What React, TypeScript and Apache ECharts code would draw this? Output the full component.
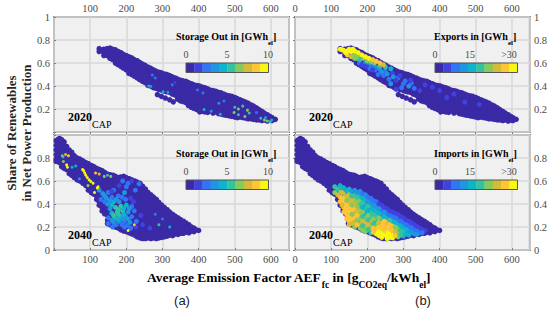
import React, { useEffect, useRef } from "react";
import * as echarts from "echarts";

const palette = ["#3b2aa5", "#4042e0", "#3075f5", "#1f96df", "#0db5cc", "#35c39f", "#84cb5c", "#d6ba3a", "#fec535", "#f8f90f"];
const xTicks = [0, 100, 200, 300, 400, 500, 600];

// columns: [AEF, [share values]]
const cloud2020: [number, number[]][] = [
  [125, [0.725, 0.7]], [138, [0.72, 0.69, 0.665]], [155, [0.73, 0.7, 0.67, 0.64]],
  [170, [0.715, 0.685, 0.655, 0.625, 0.6]], [185, [0.69, 0.66, 0.63, 0.6, 0.57]],
  [200, [0.665, 0.635, 0.605, 0.575, 0.54]], [215, [0.645, 0.615, 0.585, 0.555, 0.525, 0.5]],
  [230, [0.62, 0.59, 0.56, 0.53, 0.5, 0.47]], [245, [0.59, 0.56, 0.53, 0.5, 0.47, 0.44]],
  [260, [0.565, 0.535, 0.505, 0.475, 0.445, 0.405]], [275, [0.54, 0.51, 0.48, 0.45, 0.42, 0.385]],
  [290, [0.52, 0.49, 0.46, 0.43, 0.4, 0.37]], [305, [0.505, 0.475, 0.445, 0.415, 0.385, 0.355]],
  [320, [0.49, 0.46, 0.43, 0.4, 0.37, 0.345]], [335, [0.47, 0.44, 0.41, 0.38, 0.35, 0.32]],
  [350, [0.45, 0.42, 0.39, 0.36, 0.33, 0.3, 0.27]], [365, [0.44, 0.41, 0.38, 0.35, 0.32, 0.29, 0.255]],
  [380, [0.42, 0.39, 0.36, 0.33, 0.3, 0.27, 0.24, 0.215]], [395, [0.405, 0.375, 0.345, 0.315, 0.285, 0.255, 0.225, 0.195]],
  [403, [0.175]], [410, [0.39, 0.36, 0.33, 0.3, 0.27, 0.24, 0.21, 0.18]],
  [425, [0.375, 0.345, 0.315, 0.285, 0.255, 0.225, 0.195, 0.17]], [440, [0.36, 0.33, 0.3, 0.27, 0.24, 0.21, 0.18, 0.165]],
  [455, [0.345, 0.315, 0.285, 0.255, 0.225, 0.195, 0.16]], [470, [0.33, 0.3, 0.27, 0.24, 0.21, 0.18, 0.15]],
  [485, [0.315, 0.285, 0.255, 0.225, 0.195, 0.165, 0.14]], [500, [0.3, 0.27, 0.24, 0.21, 0.18, 0.15, 0.13]],
  [515, [0.28, 0.25, 0.22, 0.19, 0.16, 0.13]], [530, [0.26, 0.23, 0.2, 0.17, 0.14, 0.12]],
  [545, [0.235, 0.205, 0.175, 0.145, 0.115]], [560, [0.21, 0.18, 0.15, 0.12, 0.105]],
  [575, [0.18, 0.15, 0.12, 0.1]], [590, [0.15, 0.12, 0.095]], [603, [0.125, 0.1]], [612, [0.11]],
];
const cloud2020Between: [number, number[]][] = [
  [132, [0.71]], [147, [0.725, 0.695, 0.665]], [162, [0.72, 0.69, 0.66, 0.63]],
  [177, [0.7, 0.67, 0.64, 0.61, 0.585]], [192, [0.675, 0.645, 0.615, 0.585, 0.555]],
  [207, [0.655, 0.625, 0.595, 0.565, 0.535, 0.51]], [222, [0.63, 0.6, 0.57, 0.54, 0.51, 0.485]],
  [237, [0.605, 0.575, 0.545, 0.515, 0.485, 0.455]], [252, [0.58, 0.55, 0.52, 0.49, 0.46, 0.43]],
  [267, [0.555, 0.525, 0.495, 0.465, 0.435, 0.4]], [282, [0.53, 0.5, 0.47, 0.44, 0.41, 0.38]],
  [297, [0.515, 0.485, 0.455, 0.425, 0.395, 0.365]], [312, [0.5, 0.47, 0.44, 0.41, 0.38, 0.35]],
  [327, [0.48, 0.45, 0.42, 0.39, 0.36, 0.33]], [342, [0.46, 0.43, 0.4, 0.37, 0.34, 0.31, 0.285]],
  [357, [0.445, 0.415, 0.385, 0.355, 0.325, 0.295, 0.265]], [372, [0.43, 0.4, 0.37, 0.34, 0.31, 0.28, 0.25, 0.23]],
  [387, [0.41, 0.38, 0.35, 0.32, 0.29, 0.26, 0.23, 0.205]], [402, [0.4, 0.37, 0.34, 0.31, 0.28, 0.25, 0.22, 0.19]],
  [417, [0.385, 0.355, 0.325, 0.295, 0.265, 0.235, 0.205, 0.175]], [432, [0.365, 0.335, 0.305, 0.275, 0.245, 0.215, 0.185]],
  [447, [0.355, 0.325, 0.295, 0.265, 0.235, 0.205, 0.175]], [462, [0.34, 0.31, 0.28, 0.25, 0.22, 0.19, 0.155]],
  [477, [0.32, 0.29, 0.26, 0.23, 0.2, 0.17, 0.145]], [492, [0.31, 0.28, 0.25, 0.22, 0.19, 0.16, 0.135]],
  [507, [0.29, 0.26, 0.23, 0.2, 0.17, 0.14, 0.125]], [522, [0.27, 0.24, 0.21, 0.18, 0.15, 0.125]],
  [537, [0.25, 0.22, 0.19, 0.16, 0.13, 0.115]], [552, [0.225, 0.195, 0.165, 0.135, 0.11]],
  [567, [0.195, 0.165, 0.135, 0.105]], [582, [0.165, 0.135, 0.105]], [597, [0.135, 0.105]],
];
const strip2020: [number, number][] = [[286, 0.325], [297, 0.31], [308, 0.295], [320, 0.28], [330, 0.262]];

const cloud2040: [number, number[]][] = [
  [6, [0.95, 0.91, 0.87, 0.83, 0.79, 0.77]], [15, [0.97, 0.93, 0.89, 0.85, 0.81, 0.76]],
  [28, [0.94, 0.9, 0.86, 0.82, 0.78, 0.74, 0.71]], [42, [0.87, 0.83, 0.79, 0.75, 0.71, 0.665]],
  [56, [0.82, 0.78, 0.74, 0.7, 0.66, 0.63]], [72, [0.79, 0.75, 0.71, 0.67, 0.63, 0.6]],
  [88, [0.76, 0.72, 0.68, 0.64, 0.6, 0.56]], [103, [0.735, 0.695, 0.655, 0.615, 0.575, 0.535, 0.5]],
  [118, [0.71, 0.67, 0.63, 0.59, 0.55, 0.51, 0.47, 0.44]], [133, [0.69, 0.65, 0.61, 0.57, 0.53, 0.49, 0.45, 0.41, 0.37, 0.34]],
  [148, [0.66, 0.62, 0.58, 0.54, 0.5, 0.46, 0.42, 0.38, 0.34, 0.3, 0.26, 0.23]],
  [163, [0.65, 0.61, 0.57, 0.53, 0.49, 0.45, 0.41, 0.37, 0.33, 0.29, 0.25, 0.21]],
  [178, [0.63, 0.59, 0.55, 0.51, 0.47, 0.43, 0.39, 0.35, 0.31, 0.27, 0.23, 0.19]],
  [193, [0.64, 0.6, 0.56, 0.52, 0.48, 0.44, 0.4, 0.36, 0.32, 0.28, 0.24, 0.2, 0.165]],
  [208, [0.62, 0.58, 0.54, 0.5, 0.46, 0.42, 0.38, 0.34, 0.3, 0.26, 0.22, 0.18, 0.15]],
  [223, [0.6, 0.56, 0.52, 0.48, 0.44, 0.4, 0.36, 0.32, 0.28, 0.24, 0.2, 0.16, 0.13]],
  [238, [0.58, 0.54, 0.5, 0.46, 0.42, 0.38, 0.34, 0.3, 0.26, 0.22, 0.18, 0.14, 0.105]],
  [253, [0.53, 0.49, 0.45, 0.41, 0.37, 0.33, 0.29, 0.25, 0.21, 0.17, 0.13, 0.1]],
  [268, [0.48, 0.44, 0.4, 0.36, 0.32, 0.28, 0.24, 0.2, 0.16, 0.125, 0.1]],
  [283, [0.44, 0.4, 0.36, 0.32, 0.28, 0.24, 0.2, 0.16, 0.125, 0.1]],
  [298, [0.39, 0.35, 0.31, 0.27, 0.23, 0.19, 0.15, 0.11]], [313, [0.35, 0.31, 0.27, 0.23, 0.19, 0.15, 0.12]],
  [328, [0.31, 0.27, 0.23, 0.19, 0.15, 0.125]], [343, [0.28, 0.24, 0.2, 0.16, 0.135]],
  [358, [0.25, 0.21, 0.17, 0.145]], [373, [0.22, 0.18, 0.15]], [387, [0.19, 0.16]], [400, [0.17]],
];
const cloud2040Between: [number, number[]][] = [
  [10, [0.96, 0.92, 0.88, 0.84, 0.8]], [21, [0.96, 0.92, 0.88, 0.84, 0.8, 0.76, 0.725]],
  [35, [0.9, 0.86, 0.82, 0.78, 0.74, 0.7]], [49, [0.85, 0.81, 0.77, 0.73, 0.69, 0.65]],
  [64, [0.8, 0.76, 0.72, 0.68, 0.64, 0.61]], [80, [0.775, 0.735, 0.695, 0.655, 0.615, 0.58]],
  [95, [0.75, 0.71, 0.67, 0.63, 0.59, 0.55, 0.52]], [110, [0.725, 0.685, 0.645, 0.605, 0.565, 0.525, 0.485]],
  [125, [0.7, 0.66, 0.62, 0.58, 0.54, 0.5, 0.46, 0.42, 0.39]],
  [140, [0.675, 0.635, 0.595, 0.555, 0.515, 0.475, 0.435, 0.395, 0.355, 0.315]],
  [155, [0.655, 0.615, 0.575, 0.535, 0.495, 0.455, 0.415, 0.375, 0.335, 0.295, 0.255, 0.22]],
  [170, [0.64, 0.6, 0.56, 0.52, 0.48, 0.44, 0.4, 0.36, 0.32, 0.28, 0.24, 0.2]],
  [185, [0.635, 0.595, 0.555, 0.515, 0.475, 0.435, 0.395, 0.355, 0.315, 0.275, 0.235, 0.195, 0.175]],
  [200, [0.63, 0.59, 0.55, 0.51, 0.47, 0.43, 0.39, 0.35, 0.31, 0.27, 0.23, 0.19, 0.16]],
  [215, [0.61, 0.57, 0.53, 0.49, 0.45, 0.41, 0.37, 0.33, 0.29, 0.25, 0.21, 0.17, 0.14]],
  [230, [0.59, 0.55, 0.51, 0.47, 0.43, 0.39, 0.35, 0.31, 0.27, 0.23, 0.19, 0.15, 0.115]],
  [245, [0.555, 0.515, 0.475, 0.435, 0.395, 0.355, 0.315, 0.275, 0.235, 0.195, 0.155, 0.115, 0.1]],
  [260, [0.5, 0.46, 0.42, 0.38, 0.34, 0.3, 0.26, 0.22, 0.18, 0.14, 0.105]],
  [275, [0.46, 0.42, 0.38, 0.34, 0.3, 0.26, 0.22, 0.18, 0.14, 0.105]],
  [290, [0.415, 0.375, 0.335, 0.295, 0.255, 0.215, 0.175, 0.135, 0.105]],
  [305, [0.37, 0.33, 0.29, 0.25, 0.21, 0.17, 0.13, 0.115]], [320, [0.33, 0.29, 0.25, 0.21, 0.17, 0.13]],
  [335, [0.295, 0.255, 0.215, 0.175, 0.14]], [350, [0.265, 0.225, 0.185, 0.145]],
  [365, [0.235, 0.195, 0.155]], [380, [0.2, 0.165]], [393, [0.175]],
];

const storage2020: [number, number, number][] = [
  [262, 0.4, 4.5], [268, 0.395, 3], [272, 0.495, 2.5], [280, 0.47, 2], [302, 0.35, 4], [315, 0.345, 3],
  [327, 0.41, 2], [335, 0.43, 1.5], [397, 0.365, 2], [412, 0.34, 2], [456, 0.25, 3], [470, 0.27, 2],
  [415, 0.195, 4], [435, 0.18, 3], [500, 0.215, 5], [510, 0.2, 6], [522, 0.225, 5], [535, 0.19, 6],
  [498, 0.17, 6], [510, 0.15, 5], [528, 0.135, 6], [540, 0.165, 5.5], [460, 0.155, 4], [560, 0.17, 2],
  [572, 0.12, 5], [582, 0.105, 6], [590, 0.095, 6.5], [598, 0.09, 5], [602, 0.105, 4], [585, 0.125, 3],
];

const exports2020: [number, number, number][] = [
  [178, 0.6, 8], [185, 0.585, 4], [195, 0.6, 9], [205, 0.585, 11], [215, 0.57, 8], [225, 0.56, 10], [200, 0.565, 4],
  [192, 0.575, 5], [208, 0.55, 6], [222, 0.54, 7], [215, 0.54, 3], [235, 0.545, 9], [250, 0.53, 6], [270, 0.51, 5],
  [240, 0.52, 9], [255, 0.505, 10], [230, 0.5, 8], [245, 0.49, 7], [260, 0.46, 8], [272, 0.48, 9], [285, 0.47, 7],
  [280, 0.45, 4], [290, 0.49, 3], [300, 0.42, 6], [265, 0.42, 9], [315, 0.4, 9], [330, 0.38, 8], [345, 0.36, 4],
  [305, 0.445, 8], [322, 0.425, 6], [295, 0.385, 7], [320, 0.45, 3], [360, 0.41, 3], [280, 0.37, 5], [380, 0.39, 3],
  [420, 0.3, 3], [440, 0.33, 3], [470, 0.26, 3], [400, 0.36, 3], [510, 0.24, 3],
  [160, 0.66, 24], [172, 0.64, 20], [145, 0.67, 26], [155, 0.655, 22], [165, 0.67, 20], [175, 0.655, 18], [165, 0.64, 18],
  [180, 0.63, 16], [190, 0.64, 20], [200, 0.62, 19], [210, 0.61, 20], [220, 0.6, 18], [235, 0.575, 17], [250, 0.565, 15], [265, 0.55, 13],
  [125, 0.72, 30], [130, 0.715, 30], [135, 0.71, 30], [140, 0.69, 28], [150, 0.72, 27], [155, 0.7, 30], [145, 0.705, 30], [160, 0.72, 30],
  [165, 0.705, 30], [175, 0.69, 30], [185, 0.67, 30], [195, 0.655, 30], [205, 0.64, 28], [215, 0.63, 26], [225, 0.615, 26], [235, 0.6, 24], [245, 0.585, 22],
];

const storage2040: [number, number, number][] = [
  [190, 0.6, 2], [205, 0.58, 2.5], [215, 0.6, 1.5], [235, 0.575, 2], [180, 0.56, 1.5], [200, 0.55, 2], [225, 0.52, 2],
  [125, 0.52, 3], [135, 0.49, 3], [150, 0.5, 2.5], [165, 0.52, 2], [130, 0.44, 2.5], [145, 0.45, 3], [160, 0.46, 2],
  [178, 0.47, 2], [195, 0.5, 3], [148, 0.4, 3.5], [165, 0.42, 4.5], [180, 0.42, 3], [198, 0.44, 2.5], [212, 0.45, 1.5],
  [155, 0.36, 3], [170, 0.37, 5], [185, 0.38, 5], [200, 0.39, 4], [215, 0.38, 2], [160, 0.32, 4], [175, 0.33, 5.5],
  [190, 0.34, 5], [205, 0.33, 3.5], [222, 0.34, 2], [150, 0.28, 2.5], [168, 0.28, 4.5], [183, 0.29, 4.5], [198, 0.29, 3.5],
  [215, 0.29, 2.5], [150, 0.23, 2], [165, 0.24, 3], [180, 0.25, 3], [195, 0.25, 2.5], [210, 0.24, 3.5], [228, 0.25, 2],
  [162, 0.2, 2], [195, 0.2, 2], [212, 0.19, 2], [226, 0.2, 1.5], [240, 0.3, 1.5], [245, 0.22, 1.5], [265, 0.19, 1.5],
  [140, 0.47, 3], [155, 0.43, 3], [172, 0.44, 3], [188, 0.46, 2.5], [160, 0.39, 4], [178, 0.35, 5], [193, 0.36, 4.5],
  [165, 0.3, 5], [178, 0.31, 5.5], [193, 0.31, 4.5], [208, 0.36, 3], [160, 0.26, 3], [175, 0.27, 4], [190, 0.27, 3],
  [205, 0.27, 3], [172, 0.22, 2.5], [188, 0.22, 2], [203, 0.215, 2.5], [140, 0.42, 2], [220, 0.42, 1.5], [160, 0.51, 1.5],
];
const storage2040Fine: [number, number, number][] = [
  [79, 0.7, 10], [82, 0.69, 10], [85, 0.67, 10], [88, 0.65, 10], [92, 0.63, 10], [97, 0.61, 10], [102, 0.595, 10], [108, 0.58, 9],
  [120, 0.54, 10], [122, 0.55, 10], [112, 0.5, 9], [37, 0.72, 10], [35, 0.74, 9], [40, 0.82, 8], [32, 0.83, 7],
  [23, 0.82, 6], [25, 0.81, 5], [26, 0.77, 6], [50, 0.72, 4], [60, 0.73, 4], [115, 0.67, 8], [125, 0.66, 7],
  [139, 0.64, 6], [148, 0.65, 5], [157, 0.64, 6], [94, 0.56, 6], [290, 0.22, 5], [320, 0.2, 4], [280, 0.31, 2], [205, 0.17, 9],
  [222, 0.22, 8], [300, 0.27, 2], [70, 0.62, 3],
];

const imports2040: [number, number, number][] = [
  [110, 0.55, 15], [110, 0.5, 19], [125, 0.56, 14], [125, 0.51, 20], [125, 0.46, 24], [125, 0.42, 24],
  [135, 0.54, 13], [135, 0.49, 20], [135, 0.45, 24], [135, 0.41, 24], [135, 0.37, 25], [135, 0.33, 25],
  [150, 0.53, 12], [150, 0.49, 19], [150, 0.45, 19], [150, 0.41, 23], [150, 0.37, 25], [150, 0.33, 24], [150, 0.29, 26], [150, 0.25, 25], [150, 0.22, 22],
  [165, 0.52, 10], [165, 0.48, 16], [165, 0.44, 19], [165, 0.4, 21], [165, 0.36, 24], [165, 0.32, 22], [165, 0.28, 24], [165, 0.24, 23], [165, 0.2, 20],
  [180, 0.51, 9], [180, 0.47, 14], [180, 0.43, 18], [180, 0.39, 16], [180, 0.35, 20], [180, 0.31, 18], [180, 0.27, 19], [180, 0.23, 19], [180, 0.19, 20],
  [195, 0.48, 9], [195, 0.44, 12], [195, 0.4, 14], [195, 0.36, 17], [195, 0.32, 14], [195, 0.28, 19], [195, 0.24, 21], [195, 0.2, 18], [195, 0.16, 19],
  [210, 0.45, 6], [210, 0.41, 10], [210, 0.37, 13], [210, 0.33, 16], [210, 0.29, 17], [210, 0.25, 22], [210, 0.21, 18], [210, 0.17, 21], [210, 0.15, 16],
  [225, 0.42, 6], [225, 0.38, 9], [225, 0.34, 12], [225, 0.3, 15], [225, 0.26, 17], [225, 0.22, 20], [225, 0.18, 25], [225, 0.14, 30],
  [240, 0.39, 5], [240, 0.35, 8], [240, 0.31, 11], [240, 0.27, 15], [240, 0.23, 25], [240, 0.19, 26], [240, 0.15, 30], [240, 0.11, 30],
  [255, 0.36, 5], [255, 0.32, 8], [255, 0.28, 12], [255, 0.24, 22], [255, 0.2, 25], [255, 0.16, 30], [255, 0.12, 30], [255, 0.1, 30],
  [270, 0.33, 4], [270, 0.29, 8], [270, 0.25, 14], [270, 0.21, 24], [270, 0.17, 24], [270, 0.13, 30], [270, 0.105, 28],
  [285, 0.31, 3], [285, 0.27, 7], [285, 0.23, 13], [285, 0.19, 18], [285, 0.15, 20], [285, 0.115, 18],
  [300, 0.28, 3], [300, 0.24, 7], [300, 0.2, 12], [300, 0.16, 15], [300, 0.12, 14],
  [315, 0.25, 3], [315, 0.21, 7], [315, 0.17, 11], [315, 0.13, 13],
  [330, 0.22, 3], [330, 0.18, 6], [330, 0.14, 9], [345, 0.19, 3], [345, 0.15, 6], [360, 0.17, 3],
  [118, 0.53, 16], [118, 0.48, 22], [130, 0.54, 14], [130, 0.5, 22], [130, 0.43, 25], [130, 0.39, 23],
  [143, 0.52, 14], [143, 0.47, 22], [143, 0.43, 20], [143, 0.39, 25], [143, 0.35, 24], [143, 0.31, 26], [143, 0.27, 24],
  [157, 0.51, 10], [157, 0.47, 17], [157, 0.43, 22], [157, 0.39, 19], [157, 0.35, 25], [157, 0.31, 20], [157, 0.27, 25], [157, 0.23, 22],
  [172, 0.5, 11], [172, 0.46, 15], [172, 0.42, 20], [172, 0.38, 18], [172, 0.34, 22], [172, 0.3, 24], [172, 0.26, 20], [172, 0.22, 24],
  [187, 0.49, 8], [187, 0.45, 13], [187, 0.41, 17], [187, 0.37, 14], [187, 0.33, 19], [187, 0.29, 16], [187, 0.25, 22], [187, 0.21, 17], [187, 0.17, 19],
  [202, 0.46, 7], [202, 0.42, 11], [202, 0.38, 15], [202, 0.34, 13], [202, 0.3, 18], [202, 0.26, 15], [202, 0.22, 21], [202, 0.18, 17],
  [217, 0.43, 6], [217, 0.39, 10], [217, 0.35, 13], [217, 0.31, 17], [217, 0.27, 20], [217, 0.23, 16], [217, 0.19, 24], [217, 0.155, 26],
  [232, 0.4, 5], [232, 0.36, 9], [232, 0.32, 12], [232, 0.28, 18], [232, 0.24, 22], [232, 0.2, 24], [232, 0.16, 29], [232, 0.125, 30],
  [247, 0.37, 5], [247, 0.33, 9], [247, 0.29, 13], [247, 0.25, 24], [247, 0.21, 26], [247, 0.17, 25], [247, 0.13, 30],
  [262, 0.34, 4], [262, 0.3, 8], [262, 0.26, 16], [262, 0.22, 25], [262, 0.18, 26], [262, 0.14, 30], [262, 0.11, 30],
  [277, 0.32, 3], [277, 0.28, 8], [277, 0.24, 13], [277, 0.2, 20], [277, 0.16, 22], [277, 0.125, 26],
  [292, 0.29, 3], [292, 0.25, 7], [292, 0.21, 12], [292, 0.17, 17], [292, 0.13, 16],
  [307, 0.26, 3], [307, 0.22, 7], [307, 0.18, 12], [307, 0.14, 14], [322, 0.235, 3], [322, 0.195, 6], [322, 0.155, 10],
  [337, 0.205, 3], [337, 0.165, 7], [337, 0.135, 10], [352, 0.18, 3], [352, 0.15, 6],
];

const SERIF = "'Liberation Serif', serif";
const AXIS = "#4a4a4a";
const FRAME = "#7f7f7f";

const columnsToPoints = (cols: [number, number[]][]) => cols.flatMap(([x, ys]) => ys.map((y) => [x, y]));
const binColor = (v: number, max: number) => palette[Math.min(9, Math.max(0, Math.floor((v / max) * 10)))];

const points2020 = [...columnsToPoints(cloud2020), ...columnsToPoints(cloud2020Between), ...strip2020];
const points2040 = [...columnsToPoints(cloud2040), ...columnsToPoints(cloud2040Between)];

const panels = [
  { left: 54, top: 17, year: "2020", title: "Storage Out in ", max: 10, labels: ["0", "5", "10"], cloud: points2020, over: [] as number[][], fine: storage2020 as number[][], xPos: "top", yPos: "left", hideY: 0, hideX: 0 },
  { left: 295, top: 17, year: "2020", title: "Exports in ", max: 30, labels: ["0", "15", ">30"], cloud: points2020, over: exports2020 as number[][], fine: [] as number[][], xPos: "top", yPos: "right", hideY: 0, hideX: -1 },
  { left: 54, top: 135, year: "2040", title: "Storage Out in ", max: 10, labels: ["0", "5", "10"], cloud: points2040, over: storage2040 as number[][], fine: storage2040Fine as number[][], xPos: "bottom", yPos: "left", hideY: 1, hideX: 0 },
  { left: 295, top: 135, year: "2040", title: "Imports in ", max: 30, labels: ["0", "15", ">30"], cloud: points2040, over: imports2040 as number[][], fine: [] as number[][], xPos: "bottom", yPos: "right", hideY: 1, hideX: -1 },
];
const W = 235;
const H = 115;

export default function App() {
  const ref = useRef<HTMLDivElement>(null);
  useEffect(() => {
    document.body.style.margin = "0";
    const chart = echarts.init(ref.current!, undefined, { renderer: "svg" });
    const grids = panels.map((p) => ({ left: p.left, top: p.top, width: W, height: H, show: true, backgroundColor: "#f0f0f0", borderColor: FRAME, borderWidth: 2 }));
    const xAxes = panels.map((p, i) => ({
      type: "value", gridIndex: i, min: 0, max: 650, interval: 100, position: p.xPos,
      axisLine: { show: false }, axisTick: { inside: true, length: 2, lineStyle: { color: FRAME } },
      splitLine: { show: true, lineStyle: { color: "#d8d8d8", width: 1.5 } },
      axisLabel: { margin: p.xPos === "top" ? 3 : 4, color: AXIS, fontFamily: SERIF, fontSize: 10.5, showMaxLabel: false, formatter: (v: number) => (v === p.hideX || !xTicks.includes(v) ? "" : String(v)) },
    }));
    const yAxes = panels.map((p, i) => ({
      type: "value", gridIndex: i, min: 0, max: 1, interval: 0.2, position: p.yPos,
      axisLine: { show: false }, axisTick: { inside: true, length: 2, lineStyle: { color: FRAME } },
      splitLine: { show: true, lineStyle: { color: "#d8d8d8", width: 1.5 } },
      axisLabel: { margin: 4, color: AXIS, fontFamily: SERIF, fontSize: 10.5, formatter: (v: number) => (v === p.hideY ? "" : String(Number(v.toFixed(1)))) },
    }));
    const scatter = (i: number, data: number[][], size: number, max: number) => ({
      type: "scatter", xAxisIndex: i, yAxisIndex: i, data, symbolSize: size, silent: true, clip: true,
      itemStyle: { opacity: 1, color: (d: any) => binColor(d.value[2] ?? 0, max) },
    });
    const series = panels.flatMap((p, i) => [
      scatter(i, p.cloud, 5.5, p.max),
      ...(p.over.length ? [scatter(i, p.over, 5, p.max)] : []),
      ...(p.fine.length ? [scatter(i, p.fine, 3, p.max)] : []),
    ]);
    const graphic: any[] = [];
    panels.forEach((p) => {
      const barLeft = p.left === 54 ? 186 : 435;
      const barTop = p.top === 17 ? 63 : 180;
      const cell = 8.25;
      palette.forEach((c, k) => graphic.push({ type: "rect", z: 100, shape: { x: barLeft + k * cell, y: barTop, width: cell + 0.3, height: 9.5 }, style: { fill: c } }));
      graphic.push({ type: "rect", z: 101, shape: { x: barLeft, y: barTop, width: cell * 10, height: 9.5 }, style: { fill: "none", stroke: "#555", lineWidth: 1 } });
      const labelY = p.top === 17 ? 54 : 171;
      const pos = p.left === 54 ? [186, 227, 268] : [435, 470, 509];
      p.labels.forEach((t, k) => graphic.push({ type: "text", z: 100, x: pos[k], y: labelY, style: { text: t, fill: AXIS, font: `10px ${SERIF}`, align: "center", verticalAlign: "middle" } }));
      graphic.push({
        type: "text", z: 100, x: p.left === 54 ? 176 : 434, y: p.top === 17 ? 31 : 148,
        style: { text: `{a|${p.title}[GWh}{s|el}{a|]}`, align: "left", verticalAlign: "top", rich: {
          a: { fontFamily: "Liberation Serif", fontWeight: "bold", fontSize: 10, color: "#262626", lineHeight: 11, verticalAlign: "top" },
          s: { fontFamily: "Liberation Serif", fontWeight: "bold", fontSize: 7, color: "#262626", lineHeight: 15, verticalAlign: "bottom" },
        } },
      });
      graphic.push({
        type: "text", z: 100, x: p.left + 14, y: p.top === 17 ? 111 : 229,
        style: { text: `{y|${p.year}}{c|CAP}`, align: "left", verticalAlign: "top", rich: {
          y: { fontFamily: "Liberation Serif", fontWeight: "bold", fontSize: 12, color: "#111", lineHeight: 12, verticalAlign: "top" },
          c: { fontFamily: "Liberation Serif", fontSize: 10, color: "#333", lineHeight: 18, verticalAlign: "bottom" },
        } },
      });
    });
    graphic.push(
      { type: "text", x: 11, y: 133, rotation: Math.PI / 2, style: { text: "Share of Renewables", font: `bold 13px ${SERIF}`, fill: "#262626", align: "center", verticalAlign: "middle" } },
      { type: "text", x: 26, y: 133, rotation: Math.PI / 2, style: { text: "in Net Power Production", font: `bold 13px ${SERIF}`, fill: "#262626", align: "center", verticalAlign: "middle" } },
      { type: "text", x: 147, y: 270, style: { text: "{a|Average Emission Factor AEF}{s|fc}{a| in [g}{s|CO2eq}{a|/kWh}{s|el}{a|]}", align: "left", verticalAlign: "top", rich: {
        a: { fontFamily: "Liberation Serif", fontWeight: "bold", fontSize: 13.5, color: "#262626", lineHeight: 14, verticalAlign: "top" },
        s: { fontFamily: "Liberation Serif", fontWeight: "bold", fontSize: 9.5, color: "#262626", lineHeight: 20, verticalAlign: "bottom" },
      } } },
      { type: "text", x: 182, y: 300, style: { text: "(a)", font: "13px 'Liberation Sans', sans-serif", fill: "#222", align: "center", verticalAlign: "middle" } },
      { type: "text", x: 423, y: 300, style: { text: "(b)", font: "13px 'Liberation Sans', sans-serif", fill: "#222", align: "center", verticalAlign: "middle" } },
    );
    chart.setOption({ animation: false, backgroundColor: "#fff", grid: grids, xAxis: xAxes, yAxis: yAxes, series, graphic });
    return () => chart.dispose();
  }, []);
  return <div ref={ref} style={{ position: "fixed", left: 0, top: 0, width: 550, height: 310 }} />;
}
